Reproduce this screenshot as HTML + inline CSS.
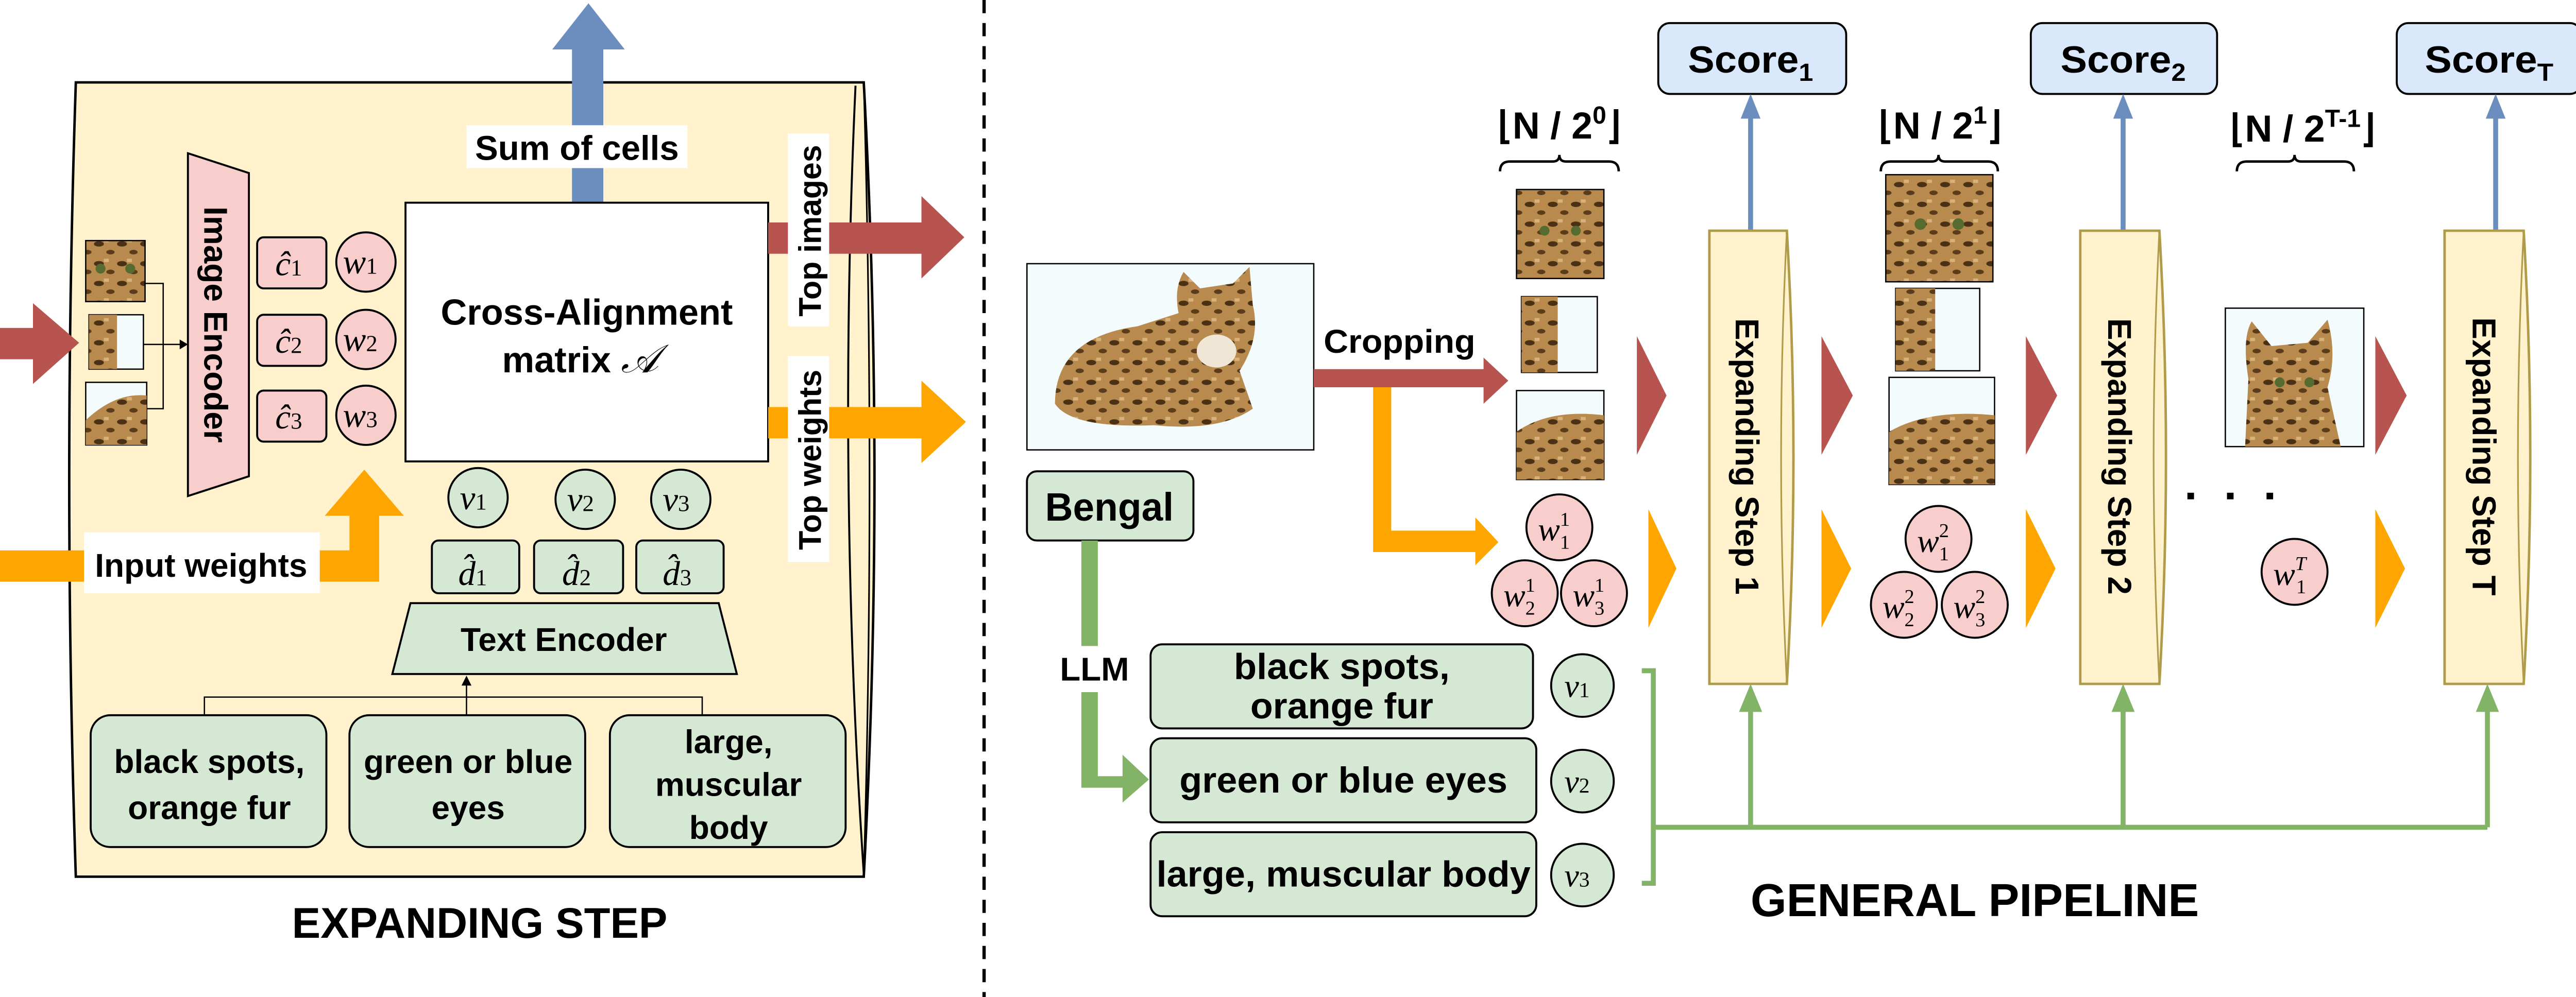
<!DOCTYPE html>
<html><head><meta charset="utf-8"><style>
html,body{margin:0;padding:0;background:#fff;width:5244px;height:1936px;overflow:hidden}
svg{display:block}
.b{font-family:"Liberation Sans",sans-serif;font-weight:bold;fill:#000}
.n{font-family:"Liberation Sans",sans-serif;font-weight:bold;fill:#000}
.m{font-family:"Liberation Serif","DejaVu Serif",serif;font-style:italic;fill:#000}
</style></head><body>
<svg width="5244" height="1936" viewBox="0 0 1639 605" preserveAspectRatio="none" xmlns="http://www.w3.org/2000/svg">
<defs>
<pattern id="fur" width="14" height="12" patternUnits="userSpaceOnUse">
<rect width="14" height="12" fill="#b88a4e"/>
<ellipse cx="4" cy="4" rx="3" ry="1.6" fill="#4a3115"/>
<ellipse cx="11" cy="9" rx="2.5" ry="1.4" fill="#5a3b1a"/>
<rect x="7" y="1" width="3" height="2" fill="#d8b27a"/>
</pattern>
</defs>

<!-- ============ LEFT PANEL ============ -->
<path d="M46,50 L524,50 Q537,291 524,532 L46,532 Q38,291 46,50 Z" fill="#fff2cc" stroke="#000" stroke-width="1.5"/>
<path d="M519,52 Q508,291 524,530" fill="none" stroke="#000" stroke-width="1.2"/>
<path d="M524,50 Q531,291 524,532" fill="none" stroke="#000" stroke-width="1"/>

<polygon points="347,123 366,123 366,30 379,30 357,2 335,30 347,30" fill="#6c8ebf"/>
<rect x="283" y="76" width="134" height="26" fill="#fff"/>
<text x="350" y="97" class="b" font-size="21" text-anchor="middle">Sum of cells</text>

<polygon points="0,199 20,199 20,184 48,208 20,233 20,218 0,218" fill="#b85450"/>

<rect x="52" y="146" width="36" height="37" fill="url(#fur)" stroke="#000" stroke-width="0.8"/>
<circle cx="61" cy="163" r="3" fill="#556b2f"/><circle cx="79" cy="163" r="3" fill="#556b2f"/>
<rect x="54" y="191" width="33" height="33" fill="#f4fbfd" stroke="#000" stroke-width="0.8"/>
<rect x="54" y="191" width="17" height="33" fill="url(#fur)"/>
<rect x="52" y="232" width="37" height="38" fill="#f4fbfd" stroke="#000" stroke-width="0.8"/>
<path d="M52,255 Q70,238 89,240 L89,270 L52,270 Z" fill="url(#fur)"/>
<path d="M88,172 L99,172 L99,248 L89,248 M87,209 L112,209" fill="none" stroke="#000" stroke-width="0.8"/>
<polygon points="114,209 109,206 109,212" fill="#000"/>

<polygon points="114,93 151,105 151,289 114,301" fill="#f8cecc" stroke="#000" stroke-width="1.2"/>
<text transform="translate(124,197) rotate(90)" class="b" font-size="20" text-anchor="middle">Image Encoder</text>

<g stroke="#000" stroke-width="1.2" fill="#f8cecc">
<rect x="156" y="144" width="42" height="31" rx="4"/>
<rect x="156" y="191" width="42" height="31" rx="4"/>
<rect x="156" y="237" width="42" height="31" rx="4"/>
<circle cx="222" cy="159" r="18"/><circle cx="222" cy="206" r="18"/><circle cx="222" cy="252" r="18"/>
</g>
<g class="m" font-size="21">
<text x="167" y="167">ĉ<tspan font-size="14" font-style="normal">1</tspan></text>
<text x="167" y="214">ĉ<tspan font-size="14" font-style="normal">2</tspan></text>
<text x="167" y="260">ĉ<tspan font-size="14" font-style="normal">3</tspan></text>
<text x="208" y="166">w<tspan font-size="14" font-style="normal">1</tspan></text>
<text x="208" y="213">w<tspan font-size="14" font-style="normal">2</tspan></text>
<text x="208" y="259">w<tspan font-size="14" font-style="normal">3</tspan></text>
</g>

<rect x="246" y="123" width="220" height="157" fill="#fff" stroke="#000" stroke-width="1.2"/>
<text x="356" y="197" class="b" font-size="22" text-anchor="middle">Cross-Alignment</text>
<text x="352" y="226" class="b" font-size="22" text-anchor="middle">matrix <tspan class="m" font-weight="normal" font-size="24">𝒜</tspan></text>

<polygon points="466,135 559,135 559,119 585,144 559,169 559,154 466,154" fill="#b85450"/>
<polygon points="466,247 559,247 559,231 586,256 559,281 559,266 466,266" fill="#ffa500"/>
<rect x="478" y="81" width="25" height="117" fill="#fff"/>
<text transform="translate(498,140) rotate(-90)" class="b" font-size="19" text-anchor="middle">Top images</text>
<rect x="478" y="216" width="25" height="125" fill="#fff"/>
<text transform="translate(498,279) rotate(-90)" class="b" font-size="19" text-anchor="middle">Top weights</text>

<polygon points="0,334 212,334 212,313 197,313 221,285 245,313 230,313 230,353 0,353" fill="#ffa500"/>
<rect x="51" y="323" width="143" height="37" fill="#fff"/>
<text x="122" y="350" class="b" font-size="20" text-anchor="middle">Input weights</text>

<g stroke="#000" stroke-width="1.2" fill="#d5e8d4">
<circle cx="290" cy="302" r="18"/><circle cx="355" cy="303" r="18"/><circle cx="413" cy="303" r="18"/>
<rect x="262" y="328" width="53" height="32" rx="4"/>
<rect x="324" y="328" width="54" height="32" rx="4"/>
<rect x="386" y="328" width="53" height="32" rx="4"/>
<polygon points="249,366 436,366 447,409 238,409"/>
</g>
<g class="m" font-size="21">
<text x="279" y="309">v<tspan font-size="14" font-style="normal">1</tspan></text>
<text x="344" y="310">v<tspan font-size="14" font-style="normal">2</tspan></text>
<text x="402" y="310">v<tspan font-size="14" font-style="normal">3</tspan></text>
<text x="278" y="355">d̂<tspan font-size="14" font-style="normal">1</tspan></text>
<text x="341" y="355">d̂<tspan font-size="14" font-style="normal">2</tspan></text>
<text x="402" y="355">d̂<tspan font-size="14" font-style="normal">3</tspan></text>
</g>
<text x="342" y="395" class="b" font-size="20" text-anchor="middle">Text Encoder</text>

<path d="M124,434 L124,423 L426,423 L426,434 M283,434 L283,413" fill="none" stroke="#000" stroke-width="0.8"/>
<polygon points="283,410 280,416 286,416" fill="#000"/>

<g stroke="#000" stroke-width="1.2" fill="#d5e8d4">
<rect x="55" y="434" width="143" height="80" rx="12"/>
<rect x="212" y="434" width="143" height="80" rx="12"/>
<rect x="370" y="434" width="143" height="80" rx="12"/>
</g>
<g class="b" font-size="20" text-anchor="middle">
<text x="127" y="469">black spots,</text><text x="127" y="497">orange fur</text>
<text x="284" y="469">green or blue</text><text x="284" y="497">eyes</text>
<text x="442" y="457">large,</text><text x="442" y="483">muscular</text><text x="442" y="509">body</text>
</g>
<text x="291" y="569" class="b" font-size="26" text-anchor="middle">EXPANDING STEP</text>

<line x1="597" y1="0" x2="597" y2="605" stroke="#000" stroke-width="2" stroke-dasharray="8,6"/>

<!-- ============ RIGHT PANEL ============ -->
<g stroke="#000" stroke-width="1.2" fill="#dae8fc">
<rect x="1006" y="14" width="114" height="43" rx="7"/>
<rect x="1232" y="14" width="113" height="43" rx="7"/>
<rect x="1454" y="14" width="112" height="43" rx="7"/>
</g>
<g class="n" font-size="23" text-anchor="middle">
<text x="1062" y="44" textLength="76" lengthAdjust="spacingAndGlyphs">Score<tspan font-size="15" dy="5">1</tspan></text>
<text x="1288" y="44" textLength="76" lengthAdjust="spacingAndGlyphs">Score<tspan font-size="15" dy="5">2</tspan></text>
<text x="1510" y="44" textLength="78" lengthAdjust="spacingAndGlyphs">Score<tspan font-size="15" dy="5">T</tspan></text>
</g>
<g stroke="#6c8ebf" stroke-width="3">
<line x1="1062" y1="140" x2="1062" y2="66"/><line x1="1288" y1="140" x2="1288" y2="66"/><line x1="1514" y1="140" x2="1514" y2="66"/>
</g>
<g fill="#6c8ebf">
<polygon points="1062,57 1056,72 1068,72"/><polygon points="1288,57 1282,72 1294,72"/><polygon points="1514,57 1508,72 1520,72"/>
</g>

<rect x="623" y="160" width="174" height="113" fill="#f4fbfd" stroke="#000" stroke-width="0.8"/>
<path d="M640,245 Q640,205 690,198 L715,190 Q712,175 718,165 L728,175 L748,172 L758,162 L760,185 Q765,205 752,225 L760,248 Q740,262 700,258 Q650,260 640,245 Z" fill="url(#fur)"/>
<ellipse cx="738" cy="213" rx="12" ry="10" fill="#efe6d6"/>

<rect x="623" y="286" width="101" height="42" rx="6" fill="#d5e8d4" stroke="#000" stroke-width="1.2"/>
<text x="673" y="316" class="n" font-size="24" text-anchor="middle" textLength="78" lengthAdjust="spacingAndGlyphs">Bengal</text>

<polygon points="797,224 900,224 900,217 915,231 900,245 900,235 797,235" fill="#b85450"/>
<text x="849" y="214" class="n" font-size="20" text-anchor="middle" textLength="92" lengthAdjust="spacingAndGlyphs">Cropping</text>
<polygon points="833,235 844,235 844,322 895,322 895,314 909,329 895,343 895,335 833,335" fill="#ffa500"/>

<polygon points="656,328 666,328 666,471 681,471 681,458 697,473 681,487 681,478 656,478" fill="#82b366"/>
<rect x="640" y="392" width="48" height="28" fill="#fff"/>
<text x="664" y="413" class="n" font-size="20" text-anchor="middle" textLength="42" lengthAdjust="spacingAndGlyphs">LLM</text>

<g stroke="#000" stroke-width="1.2" fill="#d5e8d4">
<rect x="698" y="391" width="232" height="51" rx="7"/>
<rect x="698" y="448" width="234" height="51" rx="7"/>
<rect x="698" y="505" width="234" height="51" rx="7"/>
<ellipse cx="960" cy="416" rx="19" ry="19"/>
<ellipse cx="960" cy="474" rx="19" ry="19"/>
<ellipse cx="960" cy="531" rx="19" ry="19"/>
</g>
<g class="n" font-size="22" text-anchor="middle">
<text x="814" y="412" textLength="131" lengthAdjust="spacingAndGlyphs">black spots,</text>
<text x="814" y="436" textLength="111" lengthAdjust="spacingAndGlyphs">orange fur</text>
<text x="815" y="481" textLength="199" lengthAdjust="spacingAndGlyphs">green or blue eyes</text>
<text x="815" y="538" textLength="227" lengthAdjust="spacingAndGlyphs">large, muscular body</text>
</g>
<g class="m" font-size="20">
<text x="949" y="423">v<tspan font-size="13" font-style="normal">1</tspan></text>
<text x="949" y="481">v<tspan font-size="13" font-style="normal">2</tspan></text>
<text x="949" y="538">v<tspan font-size="13" font-style="normal">3</tspan></text>
</g>

<g fill="none" stroke="#82b366" stroke-width="3">
<path d="M996,407 L1003,407 L1003,536 L996,536"/>
<path d="M1003,502 L1509,502"/>
<path d="M1062,502 L1062,424 M1288,502 L1288,424 M1509,502 L1509,424"/>
</g>
<g fill="#82b366">
<polygon points="1062,415 1055,432 1069,432"/><polygon points="1288,415 1281,432 1295,432"/><polygon points="1509,415 1502,432 1516,432"/>
</g>

<g stroke="#b09b4b" stroke-width="1.5" fill="#fff2cc">
<path d="M1037,140 L1084,140 Q1092,277 1084,415 L1037,415 Z"/>
<path d="M1262,140 L1310,140 Q1318,277 1310,415 L1262,415 Z"/>
<path d="M1483,140 L1531,140 Q1539,277 1531,415 L1483,415 Z"/>
</g>
<g stroke="#b09b4b" stroke-width="1" fill="none">
<path d="M1084,140 Q1077,277 1084,415"/><path d="M1310,140 Q1303,277 1310,415"/><path d="M1531,140 Q1524,277 1531,415"/>
</g>
<g class="b" font-size="20" text-anchor="middle">
<text transform="translate(1053,277) rotate(90)">Expanding Step 1</text>
<text transform="translate(1279,277) rotate(90)">Expanding Step 2</text>
<text transform="translate(1500,277) rotate(90)">Expanding Step T</text>
</g>

<g fill="#b85450">
<polygon points="993,204 1011,240 993,276"/><polygon points="1105,204 1124,240 1105,276"/>
<polygon points="1229,204 1248,240 1229,276"/><polygon points="1441,204 1460,240 1441,276"/>
</g>
<g fill="#ffa500">
<polygon points="1000,309 1017,345 1000,381"/><polygon points="1105,309 1123,345 1105,381"/>
<polygon points="1229,309 1247,345 1229,381"/><polygon points="1441,309 1459,345 1441,381"/>
</g>

<g class="n" font-size="23" text-anchor="middle">
<text x="946" y="84">⌊N / 2<tspan font-size="15" dy="-9">0</tspan><tspan dy="9">⌋</tspan></text>
<text x="1177" y="84">⌊N / 2<tspan font-size="15" dy="-9">1</tspan><tspan dy="9">⌋</tspan></text>
<text x="1397" y="86">⌊N / 2<tspan font-size="15" dy="-9">T-1</tspan><tspan dy="9">⌋</tspan></text>
</g>
<g fill="none" stroke="#000" stroke-width="1.5">
<path d="M910,104 Q910,98 916,98 L942,98 Q946,98 946,94 Q946,98 950,98 L976,98 Q982,98 982,104"/>
<path d="M1141,104 Q1141,98 1147,98 L1172,98 Q1176,98 1176,94 Q1176,98 1180,98 L1206,98 Q1212,98 1212,104"/>
<path d="M1357,104 Q1357,98 1363,98 L1388,98 Q1392,98 1392,94 Q1392,98 1396,98 L1422,98 Q1428,98 1428,104"/>
</g>

<g stroke="#000" stroke-width="0.8">
<rect x="920" y="115" width="53" height="54" fill="url(#fur)"/>
<rect x="923" y="180" width="46" height="46" fill="#f4fbfd"/>
<rect x="923" y="180" width="22" height="46" fill="url(#fur)" stroke="none"/>
<rect x="920" y="237" width="53" height="54" fill="#f4fbfd"/>
<path d="M920,262 Q940,248 973,252 L973,291 L920,291 Z" fill="url(#fur)" stroke="none"/>
<rect x="1144" y="106" width="65" height="65" fill="url(#fur)"/>
<rect x="1150" y="175" width="51" height="50" fill="#f4fbfd"/>
<rect x="1150" y="175" width="24" height="50" fill="url(#fur)" stroke="none"/>
<rect x="1146" y="229" width="64" height="65" fill="#f4fbfd"/>
<path d="M1146,262 Q1170,248 1210,252 L1210,294 L1146,294 Z" fill="url(#fur)" stroke="none"/>
<rect x="1350" y="187" width="84" height="84" fill="#f4fbfd"/>
<path d="M1362,271 L1364,230 Q1360,205 1366,195 L1378,210 L1400,208 L1412,194 Q1418,215 1412,235 L1420,271 Z" fill="url(#fur)" stroke="none"/>
</g>
<g fill="#556b2f">
<circle cx="937" cy="140" r="3"/><circle cx="956" cy="140" r="3"/>
<circle cx="1165" cy="136" r="3.5"/><circle cx="1188" cy="136" r="3.5"/>
<circle cx="1383" cy="232" r="3"/><circle cx="1401" cy="232" r="3"/>
</g>

<g fill="#000"><rect x="1327" y="299" width="4" height="4"/><rect x="1351" y="299" width="4" height="4"/><rect x="1375" y="299" width="4" height="4"/></g>

<g stroke="#000" stroke-width="1.2" fill="#f8cecc">
<ellipse cx="946" cy="320" rx="20" ry="20"/><ellipse cx="925" cy="360" rx="20" ry="20"/><ellipse cx="967" cy="360" rx="20" ry="20"/>
<ellipse cx="1176" cy="327" rx="20" ry="20"/><ellipse cx="1155" cy="367" rx="20" ry="20"/><ellipse cx="1198" cy="367" rx="20" ry="20"/>
<ellipse cx="1392" cy="347" rx="20" ry="20"/>
</g>
<g class="m" font-size="20">
<text x="933" y="328">w<tspan font-size="12" font-style="normal" dy="-9">1</tspan><tspan font-size="12" font-style="normal" dx="-6" dy="14">1</tspan></text>
<text x="912" y="368">w<tspan font-size="12" font-style="normal" dy="-9">1</tspan><tspan font-size="12" font-style="normal" dx="-6" dy="14">2</tspan></text>
<text x="954" y="368">w<tspan font-size="12" font-style="normal" dy="-9">1</tspan><tspan font-size="12" font-style="normal" dx="-6" dy="14">3</tspan></text>
<text x="1163" y="335">w<tspan font-size="12" font-style="normal" dy="-9">2</tspan><tspan font-size="12" font-style="normal" dx="-6" dy="14">1</tspan></text>
<text x="1142" y="375">w<tspan font-size="12" font-style="normal" dy="-9">2</tspan><tspan font-size="12" font-style="normal" dx="-6" dy="14">2</tspan></text>
<text x="1185" y="375">w<tspan font-size="12" font-style="normal" dy="-9">2</tspan><tspan font-size="12" font-style="normal" dx="-6" dy="14">3</tspan></text>
<text x="1379" y="355">w<tspan font-size="12" dy="-9">T</tspan><tspan font-size="12" font-style="normal" dx="-6" dy="14">1</tspan></text>
</g>

<text x="1198" y="556" class="n" font-size="28" text-anchor="middle" textLength="272" lengthAdjust="spacingAndGlyphs">GENERAL PIPELINE</text>
</svg>
</body></html>
